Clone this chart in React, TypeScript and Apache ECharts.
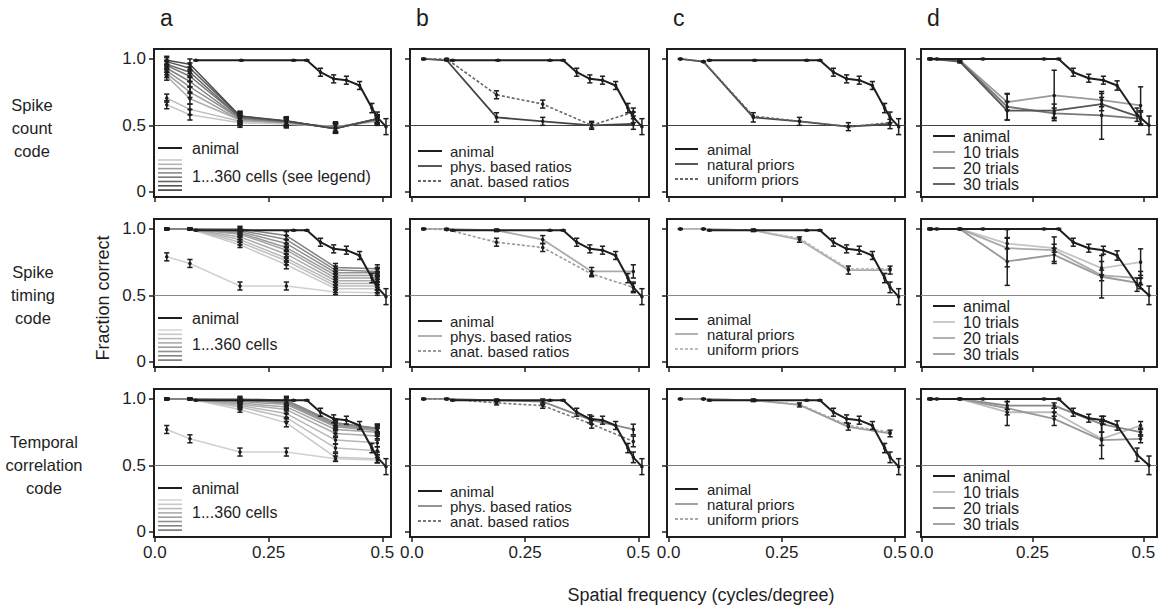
import React, { useEffect, useRef } from "react";
import * as echarts from "echarts";

// ---------- DATA ----------
const modelX = [0.026, 0.077, 0.187, 0.289, 0.397, 0.489];
const modelXd = [0.019, 0.086, 0.193, 0.299, 0.406, 0.494];

const animalX = [0.09, 0.19, 0.305, 0.334, 0.364, 0.393, 0.421, 0.45, 0.477, 0.489, 0.508];
const animalY = [0.99, 0.99, 0.99, 0.99, 0.9, 0.85, 0.84, 0.8, 0.63, 0.56, 0.49];
const animalErr = [0.004, 0.004, 0.004, 0.004, 0.03, 0.03, 0.03, 0.03, 0.035, 0.04, 0.06];

const animalXd = [0.019, 0.034, 0.138, 0.276, 0.309, 0.342, 0.377, 0.41, 0.441, 0.486, 0.513];
const animalYd = [1.0, 1.0, 1.0, 1.0, 1.0, 0.9, 0.855, 0.84, 0.8, 0.58, 0.5];
const animalErrd = [0.004, 0.004, 0.004, 0.004, 0.004, 0.03, 0.03, 0.03, 0.035, 0.05, 0.07];

// column a: 1...360 cells (10 population sizes, smallest first)
const countCells = [
  [0.655, 0.58, 0.52, 0.51, 0.49, 0.53],
  [0.705, 0.62, 0.53, 0.52, 0.49, 0.53],
  [0.87, 0.7, 0.54, 0.52, 0.485, 0.54],
  [0.89, 0.75, 0.54, 0.52, 0.485, 0.54],
  [0.91, 0.79, 0.55, 0.525, 0.48, 0.54],
  [0.93, 0.83, 0.55, 0.525, 0.48, 0.545],
  [0.95, 0.87, 0.56, 0.53, 0.48, 0.55],
  [0.96, 0.9, 0.56, 0.53, 0.475, 0.55],
  [0.98, 0.93, 0.57, 0.53, 0.475, 0.55],
  [0.99, 0.96, 0.57, 0.535, 0.475, 0.55],
];
const countCellsErr = [0.03, 0.04, 0.035, 0.03, 0.035, 0.03];

const timingCells = [
  [0.79, 0.74, 0.57, 0.57, 0.525, 0.52],
  [1.0, 1.0, 0.88, 0.73, 0.55, 0.55],
  [1.0, 1.0, 0.9, 0.76, 0.57, 0.57],
  [1.0, 1.0, 0.92, 0.78, 0.59, 0.59],
  [1.0, 1.0, 0.94, 0.81, 0.61, 0.61],
  [1.0, 1.0, 0.96, 0.84, 0.63, 0.63],
  [1.0, 1.0, 0.97, 0.86, 0.65, 0.65],
  [1.0, 1.0, 0.98, 0.89, 0.67, 0.67],
  [1.0, 1.0, 0.99, 0.92, 0.69, 0.68],
  [1.0, 1.0, 1.0, 0.95, 0.71, 0.7],
];
const timingOneCellErr = [0.03, 0.03, 0.03, 0.03, 0.02, 0.02];
const timingCellsErr = [0.004, 0.004, 0.02, 0.03, 0.03, 0.03];

const corrCells = [
  [0.77, 0.7, 0.6, 0.6, 0.55, 0.54],
  [1.0, 1.0, 0.92, 0.82, 0.56, 0.55],
  [1.0, 1.0, 0.94, 0.86, 0.63, 0.61],
  [1.0, 1.0, 0.95, 0.89, 0.69, 0.67],
  [1.0, 1.0, 0.96, 0.92, 0.74, 0.72],
  [1.0, 1.0, 0.97, 0.94, 0.77, 0.75],
  [1.0, 1.0, 0.98, 0.96, 0.79, 0.76],
  [1.0, 1.0, 0.99, 0.97, 0.8, 0.77],
  [1.0, 1.0, 0.99, 0.98, 0.81, 0.78],
  [1.0, 1.0, 1.0, 0.99, 0.82, 0.78],
];
const corrOneCellErr = [0.03, 0.03, 0.03, 0.03, 0.02, 0.02];
const corrCellsErr = [0.004, 0.004, 0.02, 0.03, 0.03, 0.03];

// column b: phys. / anat. based ratios
const countPhys = [1.0, 0.99, 0.56, 0.53, 0.5, 0.51];
const countAnat = [1.0, 1.0, 0.73, 0.66, 0.5, 0.6];
const countPhysErr = [0.004, 0.004, 0.035, 0.03, 0.03, 0.04];
const countAnatErr = [0.004, 0.004, 0.03, 0.03, 0.02, 0.03];
const timingPhys = [1.0, 1.0, 0.99, 0.92, 0.68, 0.68];
const timingAnat = [1.0, 0.995, 0.9, 0.86, 0.66, 0.56];
const timingPhysErr = [0.004, 0.004, 0.01, 0.03, 0.03, 0.05];
const timingAnatErr = [0.004, 0.004, 0.03, 0.03, 0.02, 0.03];
const corrPhys = [1.0, 1.0, 0.99, 0.98, 0.84, 0.77];
const corrAnat = [1.0, 1.0, 0.97, 0.95, 0.81, 0.68];
const corrPhysErr = [0.004, 0.004, 0.01, 0.02, 0.03, 0.04];
const corrAnatErr = [0.004, 0.004, 0.015, 0.02, 0.03, 0.04];

// column c: natural / uniform priors
const countNatural = [1.0, 0.98, 0.56, 0.53, 0.49, 0.51];
const countUniform = [1.0, 0.98, 0.57, 0.53, 0.49, 0.52];
const countPriorErr = [0.004, 0.004, 0.035, 0.03, 0.03, 0.035];
const timingNatural = [1.0, 1.0, 0.99, 0.92, 0.69, 0.69];
const timingUniform = [1.0, 1.0, 0.99, 0.93, 0.7, 0.7];
const timingPriorErr = [0.004, 0.004, 0.01, 0.02, 0.03, 0.03];
const corrNatural = [1.0, 1.0, 0.99, 0.955, 0.79, 0.74];
const corrUniform = [1.0, 1.0, 0.99, 0.96, 0.8, 0.75];
const corrPriorErr = [0.004, 0.004, 0.01, 0.015, 0.025, 0.025];

// column d: 10 / 20 / 30 trials
const countTrials10 = [1.0, 0.99, 0.675, 0.725, 0.69, 0.65];
const countTrials20 = [1.0, 0.985, 0.64, 0.59, 0.575, 0.55];
const countTrials30 = [1.0, 0.98, 0.61, 0.61, 0.66, 0.56];
const countTrials10Err = [0.004, 0.01, 0.06, 0.19, 0.05, 0.14];
const countTrials20Err = [0.004, 0.01, 0.1, 0.04, 0.18, 0.05];
const countTrials30Err = [0.004, 0.01, 0.07, 0.05, 0.05, 0.05];
const timingTrials10 = [1.0, 1.0, 0.89, 0.855, 0.705, 0.75];
const timingTrials20 = [1.0, 1.0, 0.855, 0.84, 0.65, 0.63];
const timingTrials30 = [1.0, 1.0, 0.755, 0.805, 0.64, 0.59];
const timingTrials10Err = [0.004, 0.004, 0.04, 0.03, 0.05, 0.1];
const timingTrials20Err = [0.004, 0.004, 0.14, 0.1, 0.04, 0.05];
const timingTrials30Err = [0.004, 0.004, 0.18, 0.05, 0.16, 0.04];
const corrTrials10 = [1.0, 1.0, 0.9, 0.9, 0.7, 0.8];
const corrTrials20 = [1.0, 1.0, 0.95, 0.95, 0.81, 0.75];
const corrTrials30 = [1.0, 1.0, 0.93, 0.85, 0.69, 0.7];
const corrTrials10Err = [0.004, 0.004, 0.1, 0.03, 0.05, 0.03];
const corrTrials20Err = [0.004, 0.004, 0.03, 0.02, 0.06, 0.03];
const corrTrials30Err = [0.004, 0.004, 0.05, 0.05, 0.14, 0.03];

const columnLetters = ["a", "b", "c", "d"];
const rowLabels = ["Spike\ncount\ncode", "Spike\ntiming\ncode", "Temporal\ncorrelation\ncode"];
const xTicks = [0, 0.25, 0.5];
const yTicks = [0, 0.5, 1];

// ---------- LAYOUT / STYLE ----------
const FONT = "'Liberation Sans', Arial, sans-serif";
const INK = "#1e1e1e";
const LEG_FS = 15;
const COLS = [
  { left: 154, width: 237, min: -0.002, max: 0.519 },
  { left: 410, width: 239, min: -0.004, max: 0.5236 },
  { left: 667, width: 238, min: -0.0035, max: 0.522 },
  { left: 921, width: 236, min: -0.0016, max: 0.531 },
];
const ROW_TOPS = [49, 219, 389];
const ROW_H = 148;
const Y_MIN = -0.04;
const Y_MAX = 1.075;
const refLineColors = ["#444", "#888", "#777"];
const rowLabelX = [32, 33, 44];
const rowLabelY = [128, 295, 465];

const cellColors = [
  ["#c8c8c8", "#bbbbbb", "#adadad", "#9f9f9f", "#919191", "#838383", "#757575", "#676767", "#595959", "#4b4b4b"],
  ["#d0d0d0", "#c8c8c8", "#bfbfbf", "#b6b6b6", "#adadad", "#a4a4a4", "#9b9b9b", "#929292", "#898989", "#808080"],
  ["#d0d0d0", "#c8c8c8", "#bfbfbf", "#b6b6b6", "#adadad", "#a4a4a4", "#9b9b9b", "#929292", "#898989", "#808080"],
];
const stackColors = [
  ["#c8c8c8", "#b4b4b4", "#a0a0a0", "#8c8c8c", "#787878", "#646464", "#505050", "#3c3c3c"],
  ["#d6d6d6", "#c8c8c8", "#bababa", "#acacac", "#9e9e9e", "#909090", "#828282", "#747474"],
  ["#d6d6d6", "#c8c8c8", "#bababa", "#acacac", "#9e9e9e", "#909090", "#828282", "#747474"],
];
const bColors = [
  ["#444", "#666"],
  ["#aaa", "#999"],
  ["#888", "#777"],
];
const cColors = [
  ["#444", "#666"],
  ["#aaa", "#bbb"],
  ["#999", "#aaa"],
];
const dColors = [
  ["#9a9a9a", "#777", "#555"],
  ["#c4c4c4", "#aaa", "#999"],
  ["#bbb", "#888", "#999"],
];

function gi(r: number, c: number) {
  return r * 4 + c;
}

function lineSeries(g: number, xs: number[], ys: number[], color: string, width: number, dashed: boolean, ref?: string) {
  const s: any = {
    type: "line",
    xAxisIndex: g,
    yAxisIndex: g,
    data: xs.map((x, i) => [x, ys[i]]),
    symbol: "circle",
    symbolSize: 3.5,
    showSymbol: true,
    itemStyle: { color: INK },
    lineStyle: { color, width, type: dashed ? [3, 2] : "solid" },
    z: 3,
    silent: true,
  };
  if (ref) {
    s.markLine = {
      silent: true,
      symbol: "none",
      label: { show: false },
      lineStyle: { color: ref, width: 1.2, type: "solid" },
      data: [{ yAxis: 0.5 }],
      z: 1,
    };
  }
  return s;
}

function errSeries(g: number, pts: number[][]) {
  return {
    type: "custom",
    xAxisIndex: g,
    yAxisIndex: g,
    data: pts,
    encode: { x: 0, y: 1 },
    silent: true,
    z: 4,
    renderItem: (params: any, api: any) => {
      const x = api.value(0);
      const y = api.value(1);
      const e = api.value(2);
      const t = api.coord([x, y + e]);
      const b = api.coord([x, y - e]);
      const hw = 2.6;
      const st = { stroke: INK, lineWidth: 1.5 };
      return {
        type: "group",
        children: [
          { type: "line", shape: { x1: t[0], y1: t[1], x2: b[0], y2: b[1] }, style: st },
          { type: "line", shape: { x1: t[0] - hw, y1: t[1], x2: t[0] + hw, y2: t[1] }, style: st },
          { type: "line", shape: { x1: b[0] - hw, y1: b[1], x2: b[0] + hw, y2: b[1] }, style: st },
        ],
      };
    },
  };
}

function pts(xs: number[], ys: number[], es: number[]) {
  return xs.map((x, i) => [x, ys[i], es[i]]);
}

function buildOption() {
  const grid: any[] = [];
  const xAxis: any[] = [];
  const yAxis: any[] = [];
  const series: any[] = [];
  const graphic: any[] = [];

  for (let r = 0; r < 3; r++) {
    for (let c = 0; c < 4; c++) {
      const g = gi(r, c);
      const col = COLS[c];
      grid.push({
        left: col.left,
        top: ROW_TOPS[r],
        width: col.width,
        height: ROW_H,
        show: true,
        borderColor: INK,
        borderWidth: 2,
        backgroundColor: "transparent",
        containLabel: false,
      });
      xAxis.push({
        gridIndex: g,
        type: "value",
        min: col.min,
        max: col.max,
        axisLine: { show: true, onZero: false, lineStyle: { color: INK, width: 2 } },
        axisTick: { show: true, customValues: xTicks, length: 5, lineStyle: { color: INK, width: 1.5 } },
        axisLabel: {
          show: r === 2,
          customValues: xTicks,
          formatter: (v: number) => (v === 0 ? "0.0" : String(v)),
          fontSize: 17,
          fontFamily: FONT,
          color: INK,
          margin: 7,
        },
        splitLine: { show: false },
      });
      yAxis.push({
        gridIndex: g,
        type: "value",
        min: Y_MIN,
        max: Y_MAX,
        axisLine: { show: true, onZero: false, lineStyle: { color: INK, width: 2 } },
        axisTick: { show: true, customValues: yTicks, length: 5, lineStyle: { color: INK, width: 1.5 } },
        axisLabel: {
          show: c === 0,
          customValues: yTicks,
          formatter: (v: number) => (v === 0 ? "0" : v.toFixed(1)),
          fontSize: 17,
          fontFamily: FONT,
          color: INK,
          margin: 8,
        },
        splitLine: { show: false },
      });
    }
  }

  const cellsByRow = [countCells, timingCells, corrCells];
  const cellErrByRow = [
    [countCellsErr, countCellsErr],
    [timingOneCellErr, timingCellsErr],
    [corrOneCellErr, corrCellsErr],
  ];
  const bByRow = [
    [countPhys, countAnat, countPhysErr, countAnatErr],
    [timingPhys, timingAnat, timingPhysErr, timingAnatErr],
    [corrPhys, corrAnat, corrPhysErr, corrAnatErr],
  ];
  const cByRow = [
    [countNatural, countUniform, countPriorErr],
    [timingNatural, timingUniform, timingPriorErr],
    [corrNatural, corrUniform, corrPriorErr],
  ];
  const dByRow = [
    [countTrials10, countTrials20, countTrials30, countTrials10Err, countTrials20Err, countTrials30Err],
    [timingTrials10, timingTrials20, timingTrials30, timingTrials10Err, timingTrials20Err, timingTrials30Err],
    [corrTrials10, corrTrials20, corrTrials30, corrTrials10Err, corrTrials20Err, corrTrials30Err],
  ];

  for (let r = 0; r < 3; r++) {
    const ref = refLineColors[r];
    // column a
    {
      const g = gi(r, 0);
      const e: number[][] = [];
      cellsByRow[r].forEach((ys, i) => {
        series.push(lineSeries(g, modelX, ys, cellColors[r][i], 1.5, false, i === 0 ? ref : undefined));
        e.push(...pts(modelX, ys, i === 0 ? cellErrByRow[r][0] : cellErrByRow[r][1]));
      });
      series.push(lineSeries(g, animalX, animalY, INK, 2, false));
      e.push(...pts(animalX, animalY, animalErr));
      series.push(errSeries(g, e));
    }
    // column b
    {
      const g = gi(r, 1);
      const [p, a, pe, ae] = bByRow[r];
      series.push(lineSeries(g, modelX, p, bColors[r][0], 1.8, false, ref));
      series.push(lineSeries(g, modelX, a, bColors[r][1], 1.6, true));
      series.push(lineSeries(g, animalX, animalY, INK, 2, false));
      series.push(errSeries(g, [...pts(modelX, p, pe), ...pts(modelX, a, ae), ...pts(animalX, animalY, animalErr)]));
    }
    // column c
    {
      const g = gi(r, 2);
      const [n, u, ee] = cByRow[r];
      series.push(lineSeries(g, modelX, n, cColors[r][0], 1.8, false, ref));
      series.push(lineSeries(g, modelX, u, cColors[r][1], 1.6, true));
      series.push(lineSeries(g, animalX, animalY, INK, 2, false));
      series.push(errSeries(g, [...pts(modelX, n, ee), ...pts(animalX, animalY, animalErr)]));
    }
    // column d
    {
      const g = gi(r, 3);
      const [t10, t20, t30, e10, e20, e30] = dByRow[r];
      series.push(lineSeries(g, modelXd, t10, dColors[r][0], 1.8, false, ref));
      series.push(lineSeries(g, modelXd, t20, dColors[r][1], 1.8, false));
      series.push(lineSeries(g, modelXd, t30, dColors[r][2], 1.8, false));
      series.push(lineSeries(g, animalXd, animalYd, INK, 2, false));
      series.push(
        errSeries(g, [
          ...pts(modelXd, t10, e10),
          ...pts(modelXd, t20, e20),
          ...pts(modelXd, t30, e30),
          ...pts(animalXd, animalYd, animalErrd),
        ])
      );
    }
  }

  // ----- graphic: titles, row labels, legends -----
  const txt = (x: number, y: number, text: string, size: number, extra: any = {}) => ({
    type: "text",
    x,
    y,
    silent: true,
    style: {
      text,
      fontSize: size,
      fontFamily: FONT,
      fill: INK,
      textVerticalAlign: "middle",
      ...extra,
    },
  });
  const seg = (x1: number, x2: number, y: number, color: string, width: number, dashed = false) => ({
    type: "line",
    silent: true,
    shape: { x1, y1: y, x2, y2: y },
    style: { stroke: color, lineWidth: width, lineDash: dashed ? [3, 2] : null },
  });

  COLS.forEach((col, c) => {
    graphic.push(txt(col.left + 6, 18, columnLetters[c], 23));
  });
  rowLabels.forEach((t, r) => {
    graphic.push(txt(rowLabelX[r], rowLabelY[r], t, 16.5, { textAlign: "center", lineHeight: 23 }));
  });
  graphic.push({
    type: "text",
    x: 103,
    y: 298,
    rotation: Math.PI / 2,
    silent: true,
    style: {
      text: "Fraction correct",
      fontSize: 18,
      fontFamily: FONT,
      fill: INK,
      textAlign: "center",
      textVerticalAlign: "middle",
    },
  });
  graphic.push(txt(701, 595, "Spatial frequency (cycles/degree)", 18, { textAlign: "center" }));

  for (let r = 0; r < 3; r++) {
    const top = ROW_TOPS[r];
    // a
    {
      const L = COLS[0].left;
      graphic.push(seg(L + 4, L + 28, top + 99, INK, 2));
      graphic.push(txt(L + 38, top + 99, "animal", 16));
      stackColors[r].forEach((col, i) => graphic.push(seg(L + 4, L + 28, top + 111 + i * 4.3, col, 1.6)));
      graphic.push(txt(L + 38, top + 127 - r * 2, r === 0 ? "1...360 cells (see legend)" : "1...360 cells", 16));
    }
    // b
    {
      const L = COLS[1].left;
      const ys = [102, 117, 132];
      const labels = ["animal", "phys. based ratios", "anat. based ratios"];
      const cols = [INK, bColors[r][0], bColors[r][1]];
      ys.forEach((y, i) => {
        graphic.push(seg(L + 8, L + 32, top + y, cols[i], i === 0 ? 2 : 1.8, i === 2));
        graphic.push(txt(L + 40, top + y, labels[i], LEG_FS));
      });
    }
    // c
    {
      const L = COLS[2].left;
      const ys = [100, 115, 130];
      const labels = ["animal", "natural priors", "uniform priors"];
      const cols = [INK, cColors[r][0], cColors[r][1]];
      ys.forEach((y, i) => {
        graphic.push(seg(L + 8, L + 31, top + y, cols[i], i === 0 ? 2 : 1.8, i === 2));
        graphic.push(txt(L + 40, top + y, labels[i], LEG_FS));
      });
    }
    // d
    {
      const L = COLS[3].left;
      const ys = [87, 103, 119, 135];
      const labels = ["animal", "10 trials", "20 trials", "30 trials"];
      const cols = [INK, dColors[r][0], dColors[r][1], dColors[r][2]];
      ys.forEach((y, i) => {
        graphic.push(seg(L + 12, L + 34, top + y, cols[i], i === 0 ? 2 : 1.8));
        graphic.push(txt(L + 42, top + y, labels[i], 16));
      });
    }
  }

  return {
    animation: false,
    backgroundColor: "#ffffff",
    grid,
    xAxis,
    yAxis,
    series,
    graphic,
  };
}

export default function App() {
  const ref = useRef<HTMLDivElement>(null);
  useEffect(() => {
    if (!ref.current) return;
    const chart = echarts.init(ref.current, null, { renderer: "svg" });
    chart.setOption(buildOption() as any);
    return () => chart.dispose();
  }, []);
  return (
    <div
      ref={ref}
      style={{ position: "fixed", left: 0, top: 0, width: 1170, height: 609, background: "#fff" }}
    />
  );
}
